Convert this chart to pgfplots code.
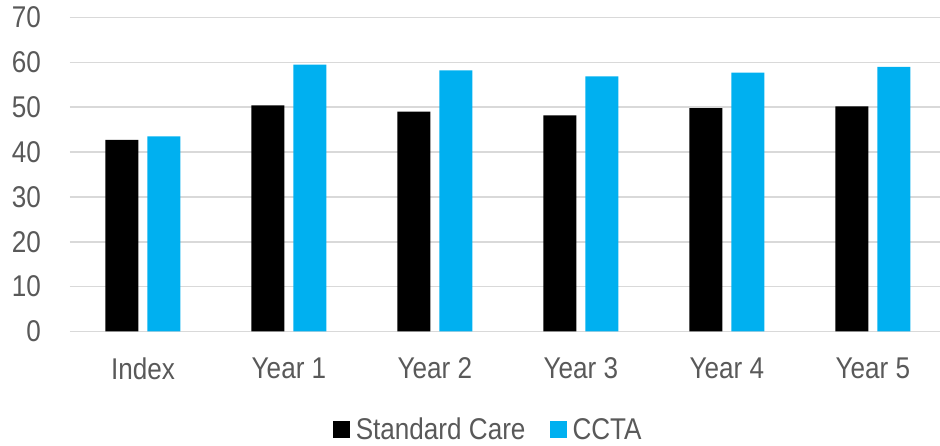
\documentclass[border=0pt]{standalone}
\usepackage{fontspec}
\setmainfont{Liberation Sans}[FakeStretch=0.87]
\usepackage{pgfplots}
\pgfplotsset{compat=1.18}
\definecolor{ccta}{HTML}{00B0F0}
\definecolor{txt}{HTML}{595959}
\definecolor{gridc}{HTML}{D9D9D9}

\begin{document}
\begin{tikzpicture}
\begin{axis}[
	scale only axis,
	width=870bp, height=314bp,
	ybar=9bp, bar width=33bp,
	xmin=-0.5, xmax=5.46,
	ymin=0, ymax=70,
	xtick={0,1,2,3,4,5},
	xticklabels={Index,Year 1,Year 2,Year 3,Year 4,Year 5},
	ytick={0,10,...,70},
	axis line style={draw=none},
	major tick length=0pt,
	ymajorgrids=true,
	grid style={gridc, line width=1.5bp},
	/pgf/number format/assume math mode=true,
	tick label style={font=\fontsize{30bp}{36bp}\selectfont, text=txt},
	yticklabel style={anchor=east, inner sep=0pt, xshift=-29bp},
	xticklabel style={anchor=north, inner sep=0pt, yshift=-26bp},
	legend style={at={(0.483,-0.312)}, anchor=center, draw=none, fill=none,
		legend columns=2, font=\fontsize{30bp}{36bp}\selectfont, text=txt,
		nodes={inner ysep=2bp, inner xsep=6bp},
		/tikz/every even column/.append style={column sep=18bp}},
	legend image code/.code={\fill[#1] (0bp,-8.5bp) rectangle (17bp,8.5bp);},
]
\addplot[fill=black, draw=none] coordinates {
	(0, 42.7) (1, 50.4) (2, 49.0) (3, 48.2) (4, 49.8) (5, 50.2)
};
\addlegendentry{Standard Care}
\addplot[fill=ccta, draw=none] coordinates {
	(0, 43.5) (1, 59.5) (2, 58.2) (3, 56.9) (4, 57.7) (5, 59.0)
};
\addlegendentry{CCTA}
\end{axis}
\pgfresetboundingbox
\path[use as bounding box] ([shift={(-70bp,-114.3bp)}]current axis.south west)
	rectangle ([shift={(0bp,17.5bp)}]current axis.north east);
\end{tikzpicture}
\end{document}
